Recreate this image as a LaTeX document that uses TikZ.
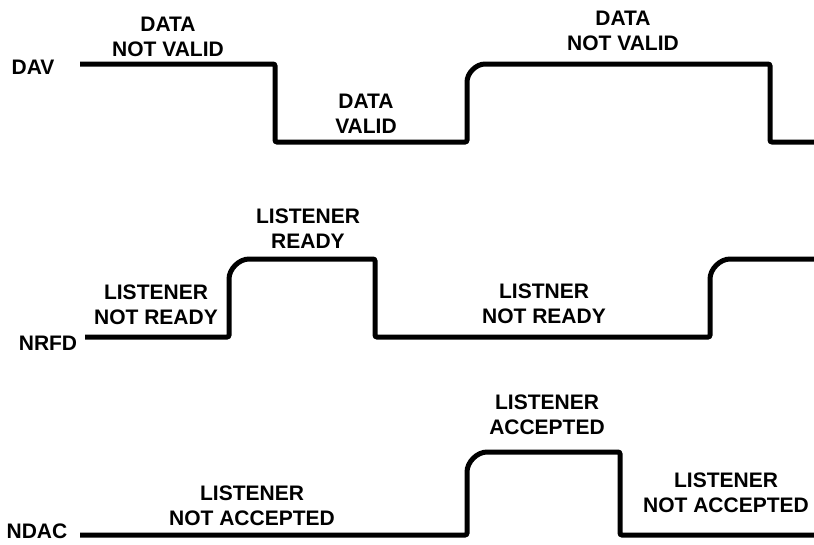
\documentclass[tikz,border=0pt]{standalone}
\usepackage{fontspec}
\setmainfont{Liberation Sans}
\begin{document}
\begin{tikzpicture}[x=1pt,y=-1pt,
  wave/.style={line width=5pt,black,rounded corners=2pt,line cap=butt},
  lbl/.style={font=\bfseries\fontsize{21}{25}\selectfont,align=center,inner sep=0pt},
  sig/.style={font=\bfseries\fontsize{21}{25}\selectfont,inner sep=0pt}]
\useasboundingbox (0,0) rectangle (814,544);
% signal names
\node[sig] (dav) at (33,67) {DAV};
\node[sig] (nrfd) at (48,343) {NRFD};
\node[sig] (ndac) at (37,531) {NDAC};
% DAV waveform
\draw[wave] (80,64) -- (275,64) -- (275,142) -- (467,142) -- (467,84)
  .. controls (467,73) and (476,64) .. (487,64) -- (770,64) -- (770,142) -- (814,142);
% NRFD waveform
\draw[wave] (85,337) -- (229,337) -- (229,281)
  .. controls (229,269) and (239,259) .. (251,259) -- (375,259) -- (375,337) -- (710,337) -- (710,281)
  .. controls (710,269) and (720,259) .. (732,259) -- (814,259);
% NDAC waveform
\draw[wave] (80,535) -- (467,535) -- (467,474)
  .. controls (467,462) and (477,452) .. (489,452) -- (620,452) -- (620,535) -- (814,535);
% labels
\node[lbl] (dnv1) at (168,36.5) {DATA\\NOT VALID};
\node[lbl] (dv) at (366,113.5) {DATA\\VALID};
\node[lbl] (dnv2) at (623,30.5) {DATA\\NOT VALID};
\node[lbl] (lnr1) at (156,305) {LISTENER\\NOT READY};
\node[lbl] (lr) at (308,228.5) {LISTENER\\READY};
\node[lbl] (lnr2) at (544,304) {LISTNER\\NOT READY};
\node[lbl] (lna1) at (252,505.5) {LISTENER\\NOT ACCEPTED};
\node[lbl] (la) at (547,414.5) {LISTENER\\ACCEPTED};
\node[lbl] (lna2) at (726,492.5) {LISTENER\\NOT ACCEPTED};
\end{tikzpicture}
\end{document}
